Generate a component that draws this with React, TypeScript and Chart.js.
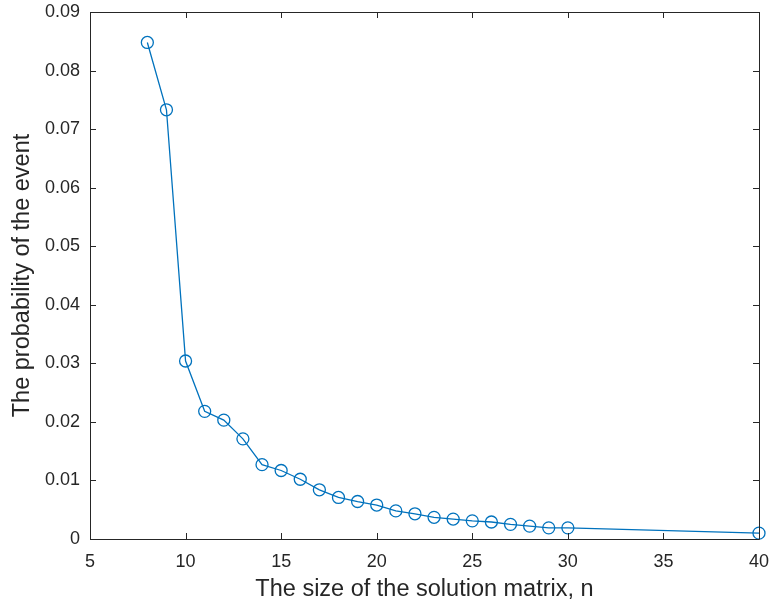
import React, { useEffect, useRef } from "react";
import { Chart, registerables } from "chart.js";

Chart.register(...registerables);

const sizes = [8, 9, 10, 11, 12, 13, 14, 15, 16, 17, 18, 19, 20, 21, 22, 23, 24, 25, 26, 27, 28, 29, 30, 40];
const probabilities = [
  0.0848, 0.0733, 0.0304, 0.0218, 0.0203, 0.0171, 0.0127, 0.0117, 0.0102, 0.0084,
  0.0071, 0.0064, 0.0058, 0.0048, 0.0043, 0.0037, 0.0034, 0.0031, 0.0029, 0.0025,
  0.0022, 0.0019, 0.0019, 0.0010,
];
const xTicks = [5, 10, 15, 20, 25, 30, 35, 40];
const yTicks = [0, 0.01, 0.02, 0.03, 0.04, 0.05, 0.06, 0.07, 0.08, 0.09];
const xTitle = "The size of the solution matrix, n";
const yTitle = "The probability of the event";

const FONT = "'Liberation Sans', Arial, Helvetica, sans-serif";
const AXIS_COLOR = "#262626";

const boxPlugin = {
  id: "matlabBox",
  afterDatasetsDraw(chart: any) {
    const { ctx, chartArea } = chart;
    const { left, right, top, bottom } = chartArea;
    const xs = chart.scales.x;
    const ys = chart.scales.y;
    ctx.save();
    ctx.strokeStyle = AXIS_COLOR;
    ctx.lineWidth = 1;
    ctx.beginPath();
    ctx.rect(Math.round(left) + 0.5, Math.round(top) + 0.5, Math.round(right - left), Math.round(bottom - top));
    ctx.stroke();
    const tl = 6;
    ctx.beginPath();
    xTicks.forEach((v) => {
      const px = Math.round(xs.getPixelForValue(v)) + 0.5;
      ctx.moveTo(px, bottom);
      ctx.lineTo(px, bottom - tl);
      ctx.moveTo(px, top);
      ctx.lineTo(px, top + tl);
    });
    yTicks.forEach((v) => {
      const py = Math.round(ys.getPixelForValue(v)) + 0.5;
      ctx.moveTo(left, py);
      ctx.lineTo(left + tl, py);
      ctx.moveTo(right, py);
      ctx.lineTo(right - tl, py);
    });
    ctx.stroke();
    ctx.restore();
  },
};

const zeroPad = (s: any) => {
  s.paddingTop = 0;
  s.paddingBottom = 0;
  s.paddingLeft = 0;
  s.paddingRight = 0;
};

export default function App() {
  const ref = useRef<HTMLCanvasElement | null>(null);
  useEffect(() => {
    if (!ref.current) return;
    const chart = new Chart(ref.current, {
      type: "scatter",
      data: {
        datasets: [
          {
            data: sizes.map((n, i) => ({ x: n, y: probabilities[i] })),
            showLine: true,
            borderColor: "#0072BD",
            borderWidth: 1.3,
            pointStyle: "circle",
            pointRadius: 6,
            pointBorderWidth: 1.3,
            pointBorderColor: "#0072BD",
            pointBackgroundColor: "rgba(0,0,0,0)",
            clip: false as any,
          },
        ],
      },
      options: {
        animation: false,
        responsive: false,
        layout: { padding: { top: 12, right: 12, left: 0, bottom: 0 } },
        plugins: { legend: { display: false }, tooltip: { enabled: false } },
        scales: {
          x: {
            type: "linear",
            min: 5,
            max: 40,
            afterBuildTicks: (s: any) => {
              s.ticks = xTicks.map((v) => ({ value: v }));
            },
            afterFit: (s: any) => {
              s.height = 65;
              zeroPad(s);
            },
            grid: { display: false, drawTicks: false },
            border: { display: false },
            ticks: {
              color: AXIS_COLOR,
              font: { family: FONT, size: 18 },
              padding: 12,
              maxRotation: 0,
              callback: (v: any) => String(v),
            },
            title: {
              display: true,
              text: xTitle,
              color: AXIS_COLOR,
              font: { family: FONT, size: 23.5 },
              padding: { top: 0, bottom: 0 },
            },
          },
          y: {
            type: "linear",
            min: 0,
            max: 0.09,
            afterBuildTicks: (s: any) => {
              s.ticks = yTicks.map((v) => ({ value: v }));
            },
            afterFit: (s: any) => {
              s.width = 90;
              zeroPad(s);
            },
            grid: { display: false, drawTicks: false },
            border: { display: false },
            ticks: {
              color: AXIS_COLOR,
              font: { family: FONT, size: 18 },
              padding: 10,
              callback: (v: any) => (v === 0 ? "0" : Number(v).toFixed(2)),
            },
            title: {
              display: true,
              text: yTitle,
              color: AXIS_COLOR,
              font: { family: FONT, size: 23.5 },
              padding: { top: 8, bottom: 0 },
            },
          },
        },
      },
      plugins: [boxPlugin],
    });
    return () => chart.destroy();
  }, []);
  return (
    <div style={{ position: "fixed", left: 0, top: 0, width: 771, height: 604, background: "#fff" }}>
      <canvas ref={ref} width={771} height={604} style={{ display: "block" }} />
    </div>
  );
}
